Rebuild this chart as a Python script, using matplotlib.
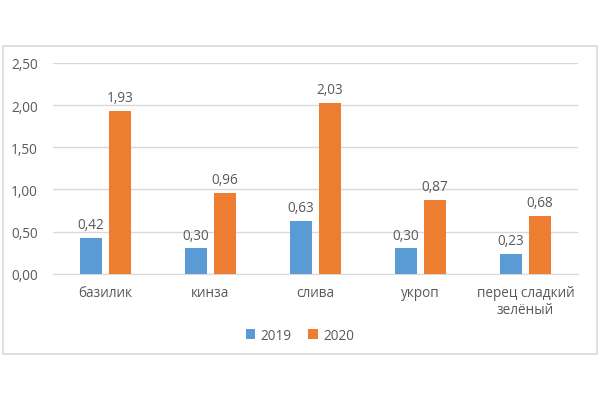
import matplotlib
matplotlib.use("Agg")
import matplotlib.pyplot as plt
from matplotlib.patches import Rectangle
import numpy as np

categories = ["базилик", "кинза", "слива", "укроп", "перец сладкий\nзелёный"]
v2019 = [0.42, 0.30, 0.63, 0.30, 0.23]
v2020 = [1.93, 0.96, 2.03, 0.87, 0.68]
series_names = ["2019", "2020"]
yticks = [0.0, 0.5, 1.0, 1.5, 2.0, 2.5]

plt.rcParams['font.family'] = ['Open Sans', 'DejaVu Sans']
txt = '#595959'
c_blue = '#5B9BD5'
c_orange = '#ED7D31'
fs = 9.8

fig = plt.figure(figsize=(6, 4.06), dpi=100)
fig.patches.append(Rectangle((0.005, 0.1256), 0.99, 0.7586, transform=fig.transFigure,
                             fill=False, edgecolor='#D9D9D9', linewidth=1.2))
ax = fig.add_axes([0.0883, 0.3234, 0.875, 0.519])
x = np.arange(len(categories))
w = 0.21
off = 0.14
b1 = ax.bar(x - off, v2019, w, color=c_blue, label=series_names[0], zorder=3)
b2 = ax.bar(x + off, v2020, w, color=c_orange, label=series_names[1], zorder=3)
for bars, vals in ((b1, v2019), (b2, v2020)):
    for r, v in zip(bars, vals):
        ax.text(r.get_x() + r.get_width() / 2, v + 0.07, f"{v:.2f}".replace('.', ','),
                ha='center', va='bottom', fontsize=fs, color=txt)
ax.set_xlim(-0.5, len(categories) - 0.5)
ax.set_ylim(0, 2.5)
ax.set_yticks(yticks)
ax.set_yticklabels([f"{t:.2f}".replace('.', ',') for t in yticks])
ax.set_xticks(x)
ax.set_xticklabels(categories)
ax.tick_params(axis='both', length=0, colors=txt, labelsize=fs)
ax.tick_params(axis='x', pad=8)
ax.tick_params(axis='y', pad=11)
ax.grid(axis='y', color='#D9D9D9', linewidth=1, zorder=0)
for s in ['top', 'right', 'left']:
    ax.spines[s].set_visible(False)
ax.spines['bottom'].set_color('#D9D9D9')
leg = fig.legend(loc='center', bbox_to_anchor=(0.5, 0.1724), ncol=2, frameon=False,
                 fontsize=fs, handlelength=0.7, handleheight=0.7, columnspacing=1.2,
                 handletextpad=0.4, labelcolor=txt)
fig.savefig("out.png", dpi=100)
